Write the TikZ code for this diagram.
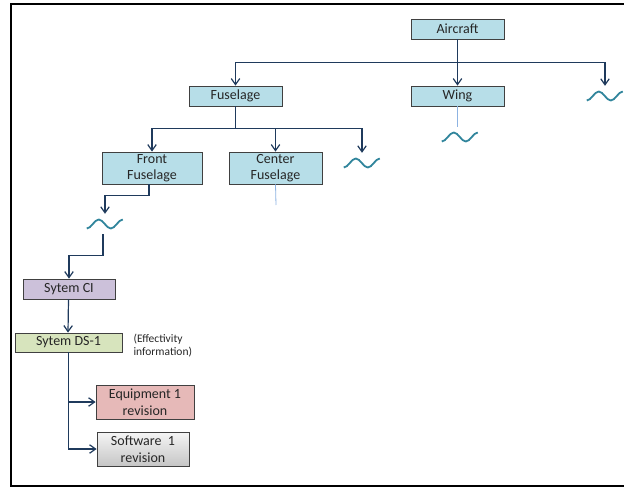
\documentclass[tikz,border=0pt]{standalone}
\usepackage{fontspec}
\setmainfont{Carlito}
\usetikzlibrary{positioning, arrows.meta, shadows}

\definecolor{boxblue}{HTML}{B7DEE8}
\definecolor{boxpurple}{HTML}{CCC1DA}
\definecolor{boxgreen}{HTML}{D7E4BD}
\definecolor{boxpink}{HTML}{E6B9B8}
\definecolor{linenavy}{HTML}{1F3A5C}
\definecolor{wavecol}{HTML}{31859C}
\definecolor{stubblue}{HTML}{8DB3E2}

\begin{document}
\begin{tikzpicture}[
          x=1pt, y=-1pt, % pixel-like units, y pointing down
          every node/.style={font=\fontsize{14}{16.5}\selectfont, text=black!85, align=center},
          item/.style={rectangle, draw=black!75, line width=0.8pt, inner sep=0pt, minimum height=20pt,
            drop shadow={shadow xshift=1pt, shadow yshift=-1pt, opacity=0.25, fill=black}},
          part/.style={item, fill=boxblue, minimum width=93pt}, % structure parts in blue
          wave/.style={minimum width=36pt, minimum height=20pt, inner sep=0pt},
          wavy/.style={draw=wavecol, line width=1.8pt},
          conn/.style={draw=linenavy, line width=1.2pt, -{Straight Barb[length=6pt,width=8.5pt]}},
          stub/.style={draw=stubblue, line width=0.8pt}
        ]
        \useasboundingbox (0,0) rectangle (624,488);
        \draw[line width=2pt] (11,4) rectangle (640,486); % frame, cut off on the right

        % structure tree
        \node[part] (air) at (457.5,29) {Aircraft};
        \node[part] (fus) at (235.5,96) {Fuselage};
        \node[part] (wing) at (457.5,96) {Wing};
        \node[wave] (sqR) at (605,96) {};
        \node[part, minimum width=100pt, minimum height=32pt] (ffus) at (152,168) {Front\\Fuselage};
        \node[part, minimum height=32pt] (cfus) at (275.5,168) {Center\\Fuselage};
        \node[wave] (sqF) at (362,163) {};
        \node[wave] (sqW) at (460,137) {};
        \node[wave] (sqFF) at (105,224) {};
        \coordinate (cfEnd) at (276,205);

        % system branch
        \node[item, fill=boxpurple, minimum width=92pt] (sci) at (69,289) {Sytem CI};
        \node[item, fill=boxgreen, minimum width=107pt, minimum height=19pt] (sds) at (68.5,342.5) {Sytem DS-1};
        \node[anchor=north west, align=left, font=\fontsize{11.5}{13}\selectfont] (eff) at (130,331) {(Effectivity\\information)};
        \node[item, fill=boxpink, minimum width=98pt, minimum height=34pt] (eq) at (145,402) {Equipment 1\\revision};
        \node[item, top color=gray!8, bottom color=gray!45, minimum width=92pt, minimum height=34pt] (sw) at (143,449) {Software~ 1\\revision};

        % the "more items" waves
        \foreach \w in {sqR, sqF, sqW, sqFF}
          \draw[wavy] (\w.west) ++(0,4.5) cos ++(6,-4.5) sin ++(6,-4.5) cos ++(6,4.5) sin ++(6,4.5) cos ++(6,-4.5) sin ++(6,-4.5);

        % connectors
        \draw[conn] (air.south) -- ++(0,23) -| (fus.north);
        \draw[conn] (air.south) -- (wing.north);
        \draw[conn] (air.south) -- ++(0,23) -| (sqR.north);
        \draw[conn] (fus.south) -- ++(0,22) -| (ffus.north);
        \draw[conn] (fus.south) -- ++(0,22) -| (cfus.north);
        \draw[conn] (fus.south) -- ++(0,22) -| (sqF.north);
        \draw[stub] (wing.south) -- (wing.south |- sqW.north);
        \draw[stub] (cfus.south) -- (cfEnd);
        \draw[conn] ([xshift=-3pt]ffus.south) -- ++(0,11) -| (sqFF.north);
        \draw[conn] ([xshift=-2pt]sqFF.south) -- ++(0,21) -| (sci.north);
        \draw[conn] ([xshift=-0.5pt]sci.south) -- ([xshift=-0.5pt]sds.north);
        \draw[conn] (sds.south) |- (eq.west);
        \draw[conn] (sds.south) |- (sw.west);
        \end{tikzpicture}
\end{document}
